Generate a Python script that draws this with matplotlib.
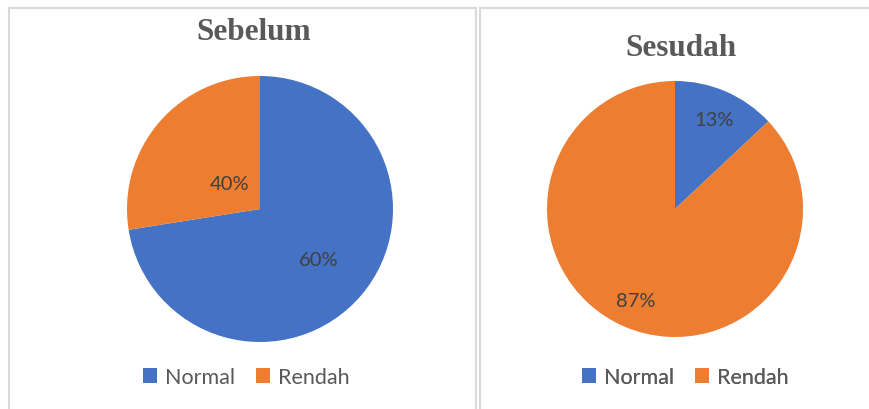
import matplotlib
matplotlib.use("Agg")
import matplotlib.pyplot as plt
from matplotlib.patches import Rectangle
import numpy as np

categories = ["Normal", "Rendah"]
# wedge shares as drawn in the picture (the left pie is drawn ~72/28 but labelled 60/40)
sebelum_drawn = [72.5, 27.5]
sebelum_labels = ["60%", "40%"]
sesudah_drawn = [13, 87]
sesudah_labels = ["13%", "87%"]
titles = ["Sebelum", "Sesudah"]

colors = ["#4472C4", "#ED7D31"]
W, H = 870, 410

fig = plt.figure(figsize=(8.7, 4.1), dpi=100)
ax = fig.add_axes([0, 0, 1, 1])
ax.set_xlim(0, W)
ax.set_ylim(0, H)
ax.set_aspect("equal")
ax.axis("off")

# panel borders
ax.add_patch(Rectangle((9, -5), 467, H - 9 + 5, fill=False, ec="#D9D9D9", lw=1.5))
ax.add_patch(Rectangle((480, -5), 420, H - 9 + 5, fill=False, ec="#D9D9D9", lw=1.5))


def draw_pie(vals, labels, cx, cy, r, dists, title, tx, ty, lx):
    wedges, _ = ax.pie(vals, colors=colors, startangle=90, counterclock=False,
                       center=(cx, H - cy), radius=r, frame=True,
                       wedgeprops=dict(linewidth=0))
    for w, lab, d in zip(wedges, labels, dists):
        ang = np.deg2rad((w.theta1 + w.theta2) / 2)
        ax.text(cx + d * r * np.cos(ang), H - cy + d * r * np.sin(ang), lab,
                ha="center", va="center", fontsize=14.5, color="#404040",
                family="Lato")
    ax.text(tx, H - ty, title, ha="center", va="center", fontsize=22.5,
            fontweight="bold", family="Liberation Serif", color="#595959")
    leg = ax.legend(wedges, categories, loc="center left",
                    bbox_to_anchor=(lx, H - 378), bbox_transform=ax.transData,
                    ncol=2, frameon=False, handlelength=0.65, handleheight=0.65,
                    handletextpad=0.35, columnspacing=1.0,
                    borderpad=0, borderaxespad=0,
                    prop=dict(family="Lato", size=15.5))
    for t in leg.get_texts():
        t.set_color("#595959")
    ax.add_artist(leg)


draw_pie(sebelum_drawn, sebelum_labels, 260, 210, 133, [0.58, 0.30], titles[0], 254, 32, 143)
draw_pie(sesudah_drawn, sesudah_labels, 675, 210, 128, [0.76, 0.78], titles[1], 681, 48, 582)

ax.set_xlim(0, W)
ax.set_ylim(0, H)
ax.axis("off")

fig.savefig("out.png", dpi=100)
